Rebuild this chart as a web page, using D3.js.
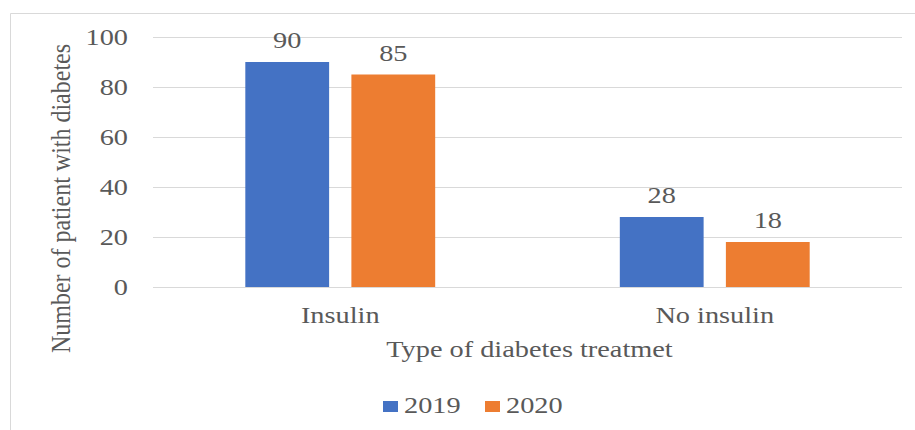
<!DOCTYPE html>
<html><head><meta charset="utf-8">
<script src="https://cdn.jsdelivr.net/npm/d3@7"></script>
<style>body{margin:0;background:#fff}svg{display:block}text{font-family:"Liberation Serif","Times New Roman",serif;fill:#595959}</style>
</head><body>
<script>
const categories = ["Insulin", "No insulin"];
const seriesNames = ["2019", "2020"];
const values2019 = [90, 28];
const values2020 = [85, 18];
const yTicks = [0, 20, 40, 60, 80, 100];
const colors = ["#4472C4", "#ED7D31"];

const W = 915, H = 430, FS = "24px", SX = 1.18;
const svg = d3.select("body").append("svg").attr("width", W).attr("height", H);
svg.append("path").attr("d", "M10.5,430 V13.5 H915").attr("fill", "none").attr("stroke", "#d9d9d9").attr("stroke-width", 1);

const m = {left: 153, right: 902, top: 37, bottom: 287};
const x = d3.scaleBand().domain(categories).range([m.left, m.right]).paddingInner(0.493).paddingOuter(0.2465);
const x1 = d3.scaleBand().domain(seriesNames).range([0, x.bandwidth()]).paddingInner(0.21);
const y = d3.scaleLinear().domain([0, 100]).range([m.bottom, m.top]);

function stretchText(sel, px, py) {
  sel.attr("x", 0).attr("y", 0).attr("transform", `translate(${px},${py}) scale(${SX},1)`);
}

svg.append("g").selectAll("line").data(yTicks).join("line")
  .attr("x1", m.left).attr("x2", m.right)
  .attr("y1", d => Math.round(y(d)) + 0.5).attr("y2", d => Math.round(y(d)) + 0.5)
  .attr("stroke", "#d9d9d9").attr("stroke-width", 1.2);

const yAxis = d3.axisLeft(y).tickValues(yTicks).tickSize(0).tickPadding(0);
const gy = svg.append("g").attr("transform", `translate(${m.left - 25},0)`).call(yAxis);
gy.select(".domain").remove();
gy.selectAll("text").style("font-size", FS).attr("fill", "#595959").attr("dy", "0.33em")
  .attr("x", 0).attr("transform", `scale(${SX},1)`);

const data = categories.map((c, i) => ({cat: c, vals: [values2019[i], values2020[i]]}));
const groups = svg.append("g").selectAll("g").data(data).join("g")
  .attr("transform", d => `translate(${x(d.cat)},0)`);
const items = d => d.vals.map((v, j) => ({s: seriesNames[j], v, j}));
groups.selectAll("rect").data(items).join("rect")
  .attr("x", d => x1(d.s)).attr("width", x1.bandwidth())
  .attr("y", d => y(d.v)).attr("height", d => y(0) - y(d.v))
  .attr("fill", d => colors[d.j]);
groups.selectAll("text.lbl").data(items).join("text")
  .attr("class", "lbl").attr("text-anchor", "middle").style("font-size", FS).text(d => d.v)
  .each(function(d) { stretchText(d3.select(this), x1(d.s) + x1.bandwidth() / 2, y(d.v) - 14); });

const xAxis = d3.axisBottom(x).tickSize(0).tickPadding(0);
const gx = svg.append("g").attr("transform", `translate(0,${m.bottom + 36})`).call(xAxis);
gx.select(".domain").remove();
gx.selectAll("text").style("font-size", FS).attr("fill", "#595959").attr("dy", 0).attr("y", 0)
  .attr("transform", `scale(${SX},1)`);

svg.append("text").attr("text-anchor", "middle").style("font-size", FS).text("Type of diabetes treatmet")
  .call(stretchText, (m.left + m.right) / 2 + 2, 357);
svg.append("text").attr("transform", `translate(70,198.5) scale(${SX},1) rotate(-90)`)
  .attr("text-anchor", "middle").style("font-size", FS).text("Number of patient with diabetes");

const lg = svg.append("g").attr("transform", "translate(383,413)");
const li = lg.selectAll("g").data(seriesNames).join("g").attr("transform", (d, i) => `translate(${i * 102},0)`);
li.append("rect").attr("x", 0).attr("y", -12).attr("width", 15).attr("height", 11).attr("fill", (d, i) => colors[i]);
li.append("text").style("font-size", FS).text(d => d).call(stretchText, 21, 0);
</script>
</body></html>
